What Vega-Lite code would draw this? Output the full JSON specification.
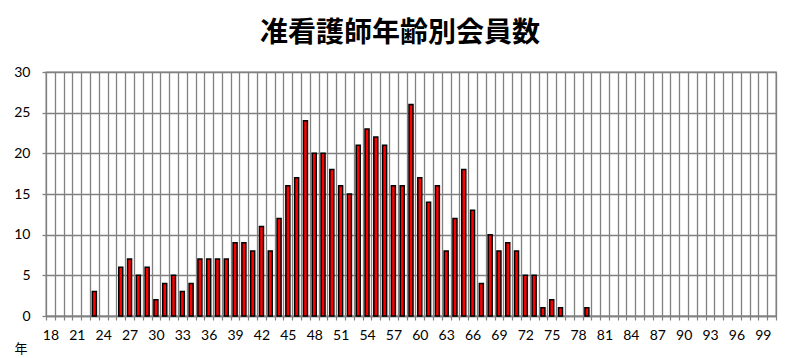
{
  "$schema": "https://vega.github.io/schema/vega-lite/v6.json",
  "width": 730,
  "height": 244,
  "autosize": "none",
  "padding": {"left": 46, "top": 72, "right": 24, "bottom": 42},
  "background": "white",
  "title": {
    "text": "准看護師年齢別会員数",
    "font": "Noto Sans CJK JP",
    "fontSize": 28,
    "fontWeight": "bold",
    "color": "#000000",
    "anchor": "middle",
    "dx": -11,
    "offset": 17
  },
  "data": {
    "values": [
      {"age": 23, "count": 3},
      {"age": 26, "count": 6},
      {"age": 27, "count": 7},
      {"age": 28, "count": 5},
      {"age": 29, "count": 6},
      {"age": 30, "count": 2},
      {"age": 31, "count": 4},
      {"age": 32, "count": 5},
      {"age": 33, "count": 3},
      {"age": 34, "count": 4},
      {"age": 35, "count": 7},
      {"age": 36, "count": 7},
      {"age": 37, "count": 7},
      {"age": 38, "count": 7},
      {"age": 39, "count": 9},
      {"age": 40, "count": 9},
      {"age": 41, "count": 8},
      {"age": 42, "count": 11},
      {"age": 43, "count": 8},
      {"age": 44, "count": 12},
      {"age": 45, "count": 16},
      {"age": 46, "count": 17},
      {"age": 47, "count": 24},
      {"age": 48, "count": 20},
      {"age": 49, "count": 20},
      {"age": 50, "count": 18},
      {"age": 51, "count": 16},
      {"age": 52, "count": 15},
      {"age": 53, "count": 21},
      {"age": 54, "count": 23},
      {"age": 55, "count": 22},
      {"age": 56, "count": 21},
      {"age": 57, "count": 16},
      {"age": 58, "count": 16},
      {"age": 59, "count": 26},
      {"age": 60, "count": 17},
      {"age": 61, "count": 14},
      {"age": 62, "count": 16},
      {"age": 63, "count": 8},
      {"age": 64, "count": 12},
      {"age": 65, "count": 18},
      {"age": 66, "count": 13},
      {"age": 67, "count": 4},
      {"age": 68, "count": 10},
      {"age": 69, "count": 8},
      {"age": 70, "count": 9},
      {"age": 71, "count": 8},
      {"age": 72, "count": 5},
      {"age": 73, "count": 5},
      {"age": 74, "count": 1},
      {"age": 75, "count": 2},
      {"age": 76, "count": 1},
      {"age": 79, "count": 1}
    ]
  },
  "mark": {"type": "bar", "color": "#FF0000", "stroke": "#000000", "strokeWidth": 1.5, "width": 4},
  "encoding": {
    "x": {
      "field": "age",
      "type": "ordinal",
      "scale": {
        "domain": [18,19,20,21,22,23,24,25,26,27,28,29,30,31,32,33,34,35,36,37,38,39,40,41,42,43,44,45,46,47,48,49,50,51,52,53,54,55,56,57,58,59,60,61,62,63,64,65,66,67,68,69,70,71,72,73,74,75,76,77,78,79,80,81,82,83,84,85,86,87,88,89,90,91,92,93,94,95,96,97,98,99,100],
        "paddingInner": 0, "paddingOuter": 0
      },
      "axis": {
        "title": "年",
        "titleFont": "Noto Sans CJK JP",
        "titleFontSize": 13,
        "titleFontWeight": "normal",
        "titleColor": "#000000",
        "titleAnchor": "start",
        "titleAlign": "left",
        "titleBaseline": "top",
        "titleX": -32,
        "titleY": 26,
        "labelExpr": "(datum.value - 18) % 3 == 0 ? datum.label : ''",
        "labelAngle": 0,
        "labelOverlap": false,
        "labelFont": "Lato",
        "labelFontSize": 14,
        "labelColor": "#000000",
        "labelPadding": 8,
        "tickBand": "extent",
        "ticks": true,
        "tickSize": 4,
        "tickColor": "#808080",
        "tickWidth": 1.2,
        "grid": true,
        "gridColor": "#808080",
        "gridWidth": 1.3,
        "gridOpacity": 1,
        "domainColor": "#808080",
        "domainWidth": 1.3
      }
    },
    "y": {
      "field": "count",
      "type": "quantitative",
      "scale": {"domain": [0, 30], "nice": false},
      "axis": {
        "title": null,
        "values": [0, 5, 10, 15, 20, 25, 30],
        "labelFont": "Lato",
        "labelFontSize": 14,
        "labelColor": "#000000",
        "labelPadding": 12,
        "ticks": true,
        "tickSize": 4,
        "tickColor": "#808080",
        "tickWidth": 1.3,
        "grid": true,
        "gridColor": "#808080",
        "gridWidth": 1.3,
        "gridOpacity": 1,
        "domain": false
      }
    }
  },
  "config": {
    "view": {"stroke": "#808080", "strokeWidth": 1.3}
  }
}
